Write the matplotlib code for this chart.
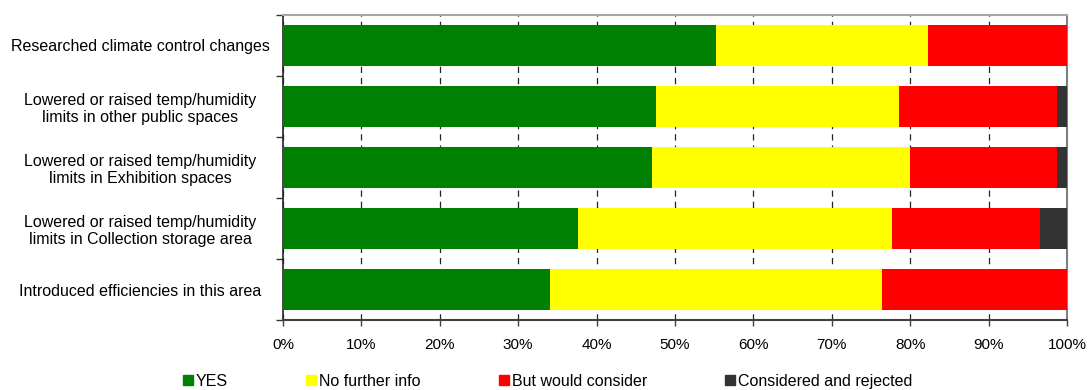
import matplotlib
matplotlib.use("Agg")
import matplotlib.pyplot as plt
from matplotlib.lines import Line2D
import numpy as np

plt.rcParams['font.family'] = ['Liberation Sans', 'DejaVu Sans']

categories = [
    "Researched climate control changes",
    "Lowered or raised temp/humidity\nlimits in other public spaces",
    "Lowered or raised temp/humidity\nlimits in Exhibition spaces",
    "Lowered or raised temp/humidity\nlimits in Collection storage area",
    "Introduced efficiencies in this area",
]
series_names = ["YES", "No further info", "But would consider", "Considered and rejected"]
yes = [55.2, 47.6, 47.1, 37.6, 34.1]
no_info = [27.1, 31.0, 32.9, 40.1, 42.3]
would_consider = [17.7, 20.1, 18.7, 18.8, 23.6]
rejected = [0.0, 1.3, 1.3, 3.5, 0.0]
colors = ["#008000", "#FFFF00", "#FF0000", "#333333"]
xticks = list(range(0, 101, 10))
xtick_labels = [f"{t}%" for t in xticks]

fig = plt.figure(figsize=(10.89, 3.9), dpi=100)
ax = fig.add_axes([283/1089, 1-320/390, 784/1089, 305/390])

y = np.arange(len(categories))
left = np.zeros(len(categories))
for vals, col, name in zip([yes, no_info, would_consider, rejected], colors, series_names):
    ax.barh(y, vals, left=left, color=col, height=0.67, zorder=3, label=name)
    left += np.array(vals)

ax.set_xlim(0, 100)
ax.set_ylim(len(categories)-0.5, -0.5)
ax.set_xticks(xticks)
ax.set_xticklabels(xtick_labels, fontsize=11)
ax.xaxis.grid(True, color="#222222", linestyle=(0, (5, 4)), linewidth=0.9, zorder=0)
ax.set_axisbelow(True)
ax.tick_params(axis='x', direction='out', length=4, width=1, color="#404040", pad=9)

ax.set_yticks(np.arange(-0.5, len(categories)), minor=False)
ax.set_yticklabels([])
ax.set_yticks(y, minor=True)
ax.set_yticklabels(categories, minor=True, fontsize=11.5, ha='center', multialignment='center',
                   linespacing=1.2)
ax.tick_params(axis='y', which='major', direction='out', length=5, width=1, color="#333333")
ax.tick_params(axis='y', which='minor', length=0, pad=103)

ax.spines['top'].set_color("#a6a6a6")
ax.spines['top'].set_linewidth(1.5)
ax.spines['right'].set_color("#808080")
ax.spines['right'].set_linewidth(1.5)
ax.spines['bottom'].set_color("#404040")
ax.spines['bottom'].set_linewidth(1.5)
ax.spines['left'].set_color("#222222")
ax.spines['left'].set_linewidth(1.2)

handles = [Line2D([0], [0], marker='s', linestyle='none', markersize=7,
                  markerfacecolor=c, markeredgecolor=c) for c in colors]
fig.legend(handles, series_names, loc='center', bbox_to_anchor=(0.503, 0.022),
           ncol=4, frameon=False, fontsize=11.5, handlelength=0.6, handletextpad=0.2,
           columnspacing=4.9)

fig.savefig("out.png", dpi=100)
